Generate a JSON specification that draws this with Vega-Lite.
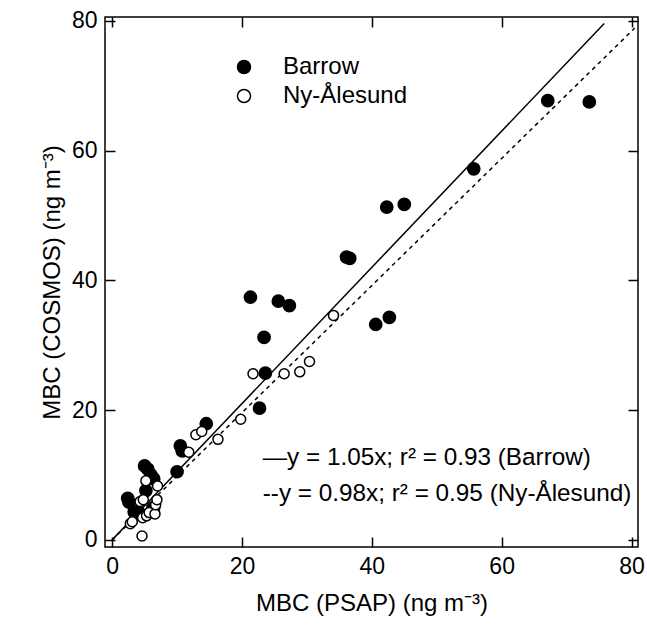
{
  "$schema": "https://vega.github.io/schema/vega-lite/v6.json",
  "width": 533,
  "height": 530,
  "autosize": "none",
  "padding": {"left": 105, "top": 17, "right": 9, "bottom": 78},
  "background": "white",
  "config": {
    "view": {"stroke": "black", "strokeWidth": 1.5},
    "font": "Liberation Sans",
    "axis": {
      "grid": false,
      "domain": false,
      "labelFont": "Liberation Sans",
      "titleFont": "Liberation Sans",
      "labelFontSize": 23,
      "titleFontSize": 24,
      "titleFontWeight": "normal",
      "labelColor": "black",
      "titleColor": "black",
      "tickColor": "black",
      "tickWidth": 1.5
    },
    "legend": {
      "labelFont": "Liberation Sans",
      "labelFontSize": 24,
      "labelColor": "black"
    }
  },
  "datasets": {
    "obs": [
      {"site": "Barrow", "psap": 2.4, "cosmos": 6.4},
      {"site": "Barrow", "psap": 2.6, "cosmos": 5.8},
      {"site": "Barrow", "psap": 3.4, "cosmos": 4.3},
      {"site": "Barrow", "psap": 4.2, "cosmos": 4.1},
      {"site": "Barrow", "psap": 5.0, "cosmos": 11.4},
      {"site": "Barrow", "psap": 5.5, "cosmos": 10.9},
      {"site": "Barrow", "psap": 6.0, "cosmos": 10.0},
      {"site": "Barrow", "psap": 6.4, "cosmos": 9.4},
      {"site": "Barrow", "psap": 5.2, "cosmos": 7.6},
      {"site": "Barrow", "psap": 6.2, "cosmos": 4.6},
      {"site": "Barrow", "psap": 6.4, "cosmos": 5.0},
      {"site": "Barrow", "psap": 10.0, "cosmos": 10.5},
      {"site": "Barrow", "psap": 10.5, "cosmos": 14.5},
      {"site": "Barrow", "psap": 10.8, "cosmos": 13.7},
      {"site": "Barrow", "psap": 14.5, "cosmos": 17.9},
      {"site": "Barrow", "psap": 22.7, "cosmos": 20.3},
      {"site": "Barrow", "psap": 23.6, "cosmos": 25.7},
      {"site": "Barrow", "psap": 23.4, "cosmos": 31.2},
      {"site": "Barrow", "psap": 21.3, "cosmos": 37.4},
      {"site": "Barrow", "psap": 25.6, "cosmos": 36.8},
      {"site": "Barrow", "psap": 27.3, "cosmos": 36.1},
      {"site": "Barrow", "psap": 36.1, "cosmos": 43.6},
      {"site": "Barrow", "psap": 36.6, "cosmos": 43.4},
      {"site": "Barrow", "psap": 40.6, "cosmos": 33.2},
      {"site": "Barrow", "psap": 42.7, "cosmos": 34.3},
      {"site": "Barrow", "psap": 42.3, "cosmos": 51.3},
      {"site": "Barrow", "psap": 45.0, "cosmos": 51.7},
      {"site": "Barrow", "psap": 55.7, "cosmos": 57.2},
      {"site": "Barrow", "psap": 67.1, "cosmos": 67.7},
      {"site": "Barrow", "psap": 73.5, "cosmos": 67.5},
      {"site": "Ny-Ålesund", "psap": 2.8, "cosmos": 2.5},
      {"site": "Ny-Ålesund", "psap": 3.1, "cosmos": 2.8},
      {"site": "Ny-Ålesund", "psap": 4.6, "cosmos": 0.6},
      {"site": "Ny-Ålesund", "psap": 4.3, "cosmos": 5.9},
      {"site": "Ny-Ålesund", "psap": 4.8, "cosmos": 6.2},
      {"site": "Ny-Ålesund", "psap": 4.7, "cosmos": 3.4},
      {"site": "Ny-Ålesund", "psap": 5.3, "cosmos": 3.7},
      {"site": "Ny-Ålesund", "psap": 5.7, "cosmos": 4.2},
      {"site": "Ny-Ålesund", "psap": 6.6, "cosmos": 4.0},
      {"site": "Ny-Ålesund", "psap": 6.7, "cosmos": 5.4},
      {"site": "Ny-Ålesund", "psap": 6.9, "cosmos": 6.2},
      {"site": "Ny-Ålesund", "psap": 5.2, "cosmos": 9.1},
      {"site": "Ny-Ålesund", "psap": 7.0, "cosmos": 8.3},
      {"site": "Ny-Ålesund", "psap": 11.8, "cosmos": 13.5},
      {"site": "Ny-Ålesund", "psap": 12.9, "cosmos": 16.2},
      {"site": "Ny-Ålesund", "psap": 13.8, "cosmos": 16.7},
      {"site": "Ny-Ålesund", "psap": 16.3, "cosmos": 15.5},
      {"site": "Ny-Ålesund", "psap": 19.8, "cosmos": 18.6},
      {"site": "Ny-Ålesund", "psap": 21.7, "cosmos": 25.6},
      {"site": "Ny-Ålesund", "psap": 26.5, "cosmos": 25.6},
      {"site": "Ny-Ålesund", "psap": 28.9, "cosmos": 25.9},
      {"site": "Ny-Ålesund", "psap": 30.4, "cosmos": 27.5},
      {"site": "Ny-Ålesund", "psap": 34.1, "cosmos": 34.6}
    ],
    "fitBarrow": [
      {"psap": 0, "cosmos": 0},
      {"psap": 75.8, "cosmos": 79.6}
    ],
    "fitNy": [
      {"psap": 0, "cosmos": 0},
      {"psap": 80.5, "cosmos": 78.9}
    ],
    "notes": [
      {"psap": 23.2, "cosmos": 12.6, "label": "—y = 1.05x; r² = 0.93 (Barrow)"},
      {"psap": 23.2, "cosmos": 7.1, "label": "--y = 0.98x; r² = 0.95 (Ny-Ålesund)"}
    ]
  },
  "layer": [
    {
      "data": {"name": "fitBarrow"},
      "mark": {"type": "line", "color": "black", "strokeWidth": 1.5},
      "encoding": {
        "x": {"field": "psap", "type": "quantitative", "scale": {"domain": [-1.1, 81], "nice": false, "zero": false},
              "axis": {"orient": "top", "labels": false, "title": null, "values": [0, 20, 40, 60, 80], "tickSize": -10, "domain": false}},
        "y": {"field": "cosmos", "type": "quantitative", "scale": {"domain": [-1.1, 80.6], "nice": false, "zero": false},
              "axis": {"orient": "right", "labels": false, "title": null, "values": [0, 20, 40, 60, 80], "tickSize": -10, "domain": false}}
      }
    },
    {
      "data": {"name": "fitNy"},
      "mark": {"type": "line", "color": "black", "strokeWidth": 1.5, "strokeDash": [4, 4]},
      "encoding": {
        "x": {"field": "psap", "type": "quantitative", "scale": {"domain": [-1.1, 81], "nice": false, "zero": false}, "axis": null},
        "y": {"field": "cosmos", "type": "quantitative", "scale": {"domain": [-1.1, 80.6], "nice": false, "zero": false}, "axis": null}
      }
    },
    {
      "data": {"name": "obs"},
      "mark": {"type": "point", "shape": "circle", "filled": true, "stroke": "black", "strokeWidth": 1.5, "opacity": 1},
      "encoding": {
        "x": {"field": "psap", "type": "quantitative", "scale": {"domain": [-1.1, 81], "nice": false, "zero": false},
              "axis": {"orient": "bottom", "title": "MBC (PSAP) (ng m⁻³)", "titlePadding": 13, "values": [0, 20, 40, 60, 80], "tickSize": -10, "labelPadding": 18, "domain": false}},
        "y": {"field": "cosmos", "type": "quantitative", "scale": {"domain": [-1.1, 80.6], "nice": false, "zero": false},
              "axis": {"orient": "left", "title": "MBC (COSMOS) (ng m⁻³)", "titlePadding": 7, "values": [0, 20, 40, 60, 80], "tickSize": -10, "labelPadding": 18, "domain": false}},
        "fill": {"field": "site", "type": "nominal",
                 "scale": {"domain": ["Barrow", "Ny-Ålesund"], "range": ["black", "white"]},
                 "legend": {"title": null, "orient": "none", "legendX": 127, "legendY": 38, "padding": 0,
                            "symbolType": "circle", "symbolSize": 170, "symbolStrokeColor": "black",
                            "symbolStrokeWidth": 1.5, "labelOffset": 27, "rowPadding": 5}},
        "size": {"condition": {"test": "datum.site === 'Barrow'", "value": 150}, "value": 100}
      }
    },
    {
      "data": {"name": "notes"},
      "mark": {"type": "text", "align": "left", "baseline": "middle", "fontSize": 24.3, "font": "Liberation Sans", "color": "black"},
      "encoding": {
        "x": {"field": "psap", "type": "quantitative", "scale": {"domain": [-1.1, 81], "nice": false, "zero": false}, "axis": null},
        "y": {"field": "cosmos", "type": "quantitative", "scale": {"domain": [-1.1, 80.6], "nice": false, "zero": false}, "axis": null},
        "text": {"field": "label"}
      }
    }
  ],
  "resolve": {"axis": {"x": "independent", "y": "independent"}}
}
